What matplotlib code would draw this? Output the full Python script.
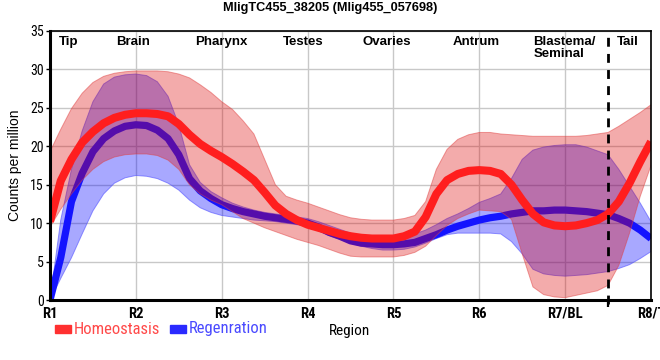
import numpy as np
import matplotlib
matplotlib.use("Agg")
import matplotlib.pyplot as plt
from matplotlib import font_manager
from matplotlib.patches import Rectangle

# ---------------- data ----------------
x_pos = np.arange(1.0, 8.0001, 0.125)

homeo_mean = [10.2, 15.5, 18.3, 20.5, 21.9, 23.0, 23.7, 24.1, 24.3, 24.3, 24.2, 23.9,
              22.9, 21.5, 20.3, 19.4, 18.6, 17.7, 16.7, 15.6, 14.0, 12.3, 11.2, 10.4,
              9.8, 9.4, 9.0, 8.6, 8.3, 8.1, 8.0, 8.0, 8.0, 8.3, 8.9, 10.8,
              13.8, 15.6, 16.4, 16.8, 16.9, 16.8, 16.4, 15.0, 13.0, 11.2, 10.1, 9.7,
              9.6, 9.7, 10.0, 10.4, 11.2, 12.8, 15.2, 18.0, 20.6]
homeo_hi = [19.3, 22.2, 24.9, 26.9, 28.3, 29.1, 29.5, 29.7, 29.8, 29.8, 29.8, 29.7,
            29.4, 28.9, 28.0, 27.0, 25.8, 24.8, 23.3, 21.6, 18.3, 15.0, 13.5, 13.0,
            12.6, 12.1, 11.6, 11.1, 10.7, 10.5, 10.4, 10.4, 10.4, 10.6, 11.0, 12.8,
            17.0, 19.6, 20.9, 21.5, 21.8, 21.8, 21.6, 21.5, 21.4, 21.3, 21.3, 21.3,
            21.3, 21.3, 21.4, 21.6, 21.8, 22.6, 23.5, 24.4, 25.4]
homeo_lo = [9.5, 11.8, 13.8, 15.6, 17.0, 18.0, 18.6, 18.9, 19.0, 19.0, 18.8, 18.2,
            17.0, 15.0, 13.8, 13.0, 12.4, 11.5, 10.6, 10.0, 9.4, 8.9, 8.4, 7.9,
            7.5, 7.1, 6.6, 6.1, 5.7, 5.6, 5.6, 5.6, 5.6, 5.8, 6.2, 7.0,
            8.4, 9.7, 10.6, 11.2, 11.7, 11.6, 11.5, 10.5, 6.0, 1.7, 0.7, 0.4,
            0.3, 0.6, 0.9, 1.2, 1.9, 4.5, 8.7, 13.5, 17.5]

regen_mean = [0.0, 5.5, 12.8, 16.5, 19.3, 21.0, 22.0, 22.6, 22.8, 22.7, 22.1, 21.0,
              18.9, 15.8, 14.2, 13.2, 12.4, 11.9, 11.5, 11.2, 10.9, 10.7, 10.5, 10.3,
              10.0, 9.5, 8.8, 8.3, 7.7, 7.4, 7.3, 7.2, 7.2, 7.3, 7.5, 8.0,
              8.5, 9.1, 9.6, 10.0, 10.4, 10.7, 10.9, 11.2, 11.4, 11.6, 11.6, 11.7,
              11.7, 11.6, 11.5, 11.3, 11.1, 10.6, 10.0, 9.1, 8.0]
regen_hi = [0.0, 10.4, 17.0, 22.0, 25.8, 28.1, 29.0, 29.3, 29.4, 29.2, 28.4, 26.5,
            22.8, 17.6, 15.3, 14.1, 13.3, 12.6, 12.1, 11.7, 11.4, 11.2, 11.0, 10.8,
            10.6, 10.2, 9.7, 9.2, 8.7, 8.3, 8.1, 8.0, 8.0, 8.2, 8.6, 9.1,
            9.8, 10.6, 11.2, 11.9, 12.7, 13.2, 13.8, 15.8, 18.3, 19.5, 19.9, 20.1,
            20.2, 20.2, 19.9, 19.4, 18.9, 17.0, 14.8, 12.6, 10.2]
regen_lo = [0.0, 2.8, 5.5, 8.6, 11.6, 13.8, 15.2, 15.9, 16.2, 16.1, 15.8, 15.2,
            14.3, 13.0, 12.0, 11.4, 11.0, 10.8, 10.6, 10.4, 10.3, 10.2, 10.0, 9.8,
            9.6, 9.0, 8.4, 7.9, 7.4, 7.0, 6.7, 6.5, 6.5, 6.6, 6.9, 7.4,
            8.0, 8.5, 8.7, 8.7, 8.7, 8.7, 8.6, 7.6, 6.0, 4.0, 3.4, 3.2,
            3.1, 3.2, 3.3, 3.5, 3.7, 4.1, 4.6, 5.4, 6.3]

tick_positions = [1, 2, 3, 4, 5, 6, 7, 8]
tick_labels = ["R1", "R2", "R3", "R4", "R5", "R6", "R7/BL", "R8/T"]
region_names = ["Tip", "Brain", "Pharynx", "Testes", "Ovaries", "Antrum", "Blastema/\nSeminal", "Tail"]
region_pos = [1.22, 1.97, 2.99, 3.95, 4.92, 5.97, 6.63, 7.73]
series_names = ["Homeostasis", "Regenration"]
title = "MligTC455_38205 (Mlig455_057698)"

# ---------------- fonts ----------------
avail = {f.name for f in font_manager.fontManager.ttflist}
def pick(cands):
    for c in cands:
        if c in avail:
            return c
    return "DejaVu Sans"
SANS = pick(["Liberation Sans", "Arial", "DejaVu Sans"])
NARROW = pick(["Liberation Sans Narrow", "Roboto Condensed", "DejaVu Sans Condensed", "Liberation Sans"])
narrow_ok = NARROW != SANS
plt.rcParams["font.family"] = [SANS, "DejaVu Sans"]

# ---------------- figure ----------------
fig = plt.figure(figsize=(6.6, 3.6), dpi=100)
ax = fig.add_axes([50 / 660, 60 / 360, 601 / 660, 269 / 360])

ax.set_xlim(1, 8)
ax.set_ylim(0, 35)
ax.set_yticks(range(0, 36, 5))
ax.set_xticks(tick_positions)
ax.grid(True, color="#c8c8c8", linewidth=1.0, zorder=0)
ax.set_axisbelow(True)

red_band = "#dc0000"
blue_band = "#0000ff"
ax.fill_between(x_pos, regen_lo, regen_hi, facecolor=blue_band, alpha=0.34,
                edgecolor="none", zorder=2)
ax.plot(x_pos, regen_hi, color="#5050ff", lw=0.7, alpha=0.6, zorder=2)
ax.plot(x_pos, regen_lo, color="#5050ff", lw=0.7, alpha=0.6, zorder=2)
ax.plot(x_pos, regen_mean, color="#1414ff", lw=5.2, solid_capstyle="butt", zorder=3)
ax.fill_between(x_pos, homeo_lo, homeo_hi, facecolor=red_band, alpha=0.33,
                edgecolor="none", zorder=4)
ax.plot(x_pos, homeo_hi, color="#e04040", lw=0.7, alpha=0.5, zorder=4)
ax.plot(x_pos, homeo_lo, color="#e04040", lw=0.7, alpha=0.5, zorder=4)
ax.plot(x_pos, homeo_mean, color="#ff1e1e", lw=5.8, solid_capstyle="butt", zorder=5)

# dashed separator
ax.axvline(7.5, ymin=-0.015, ymax=1, color="black", lw=2, ls=(0, (3.2, 2.6)),
           zorder=7, clip_on=False)

# spines
for s in ["left", "bottom"]:
    ax.spines[s].set_linewidth(2.2)
for s in ["top", "right"]:
    ax.spines[s].set_linewidth(1.2)
for s in ax.spines.values():
    s.set_zorder(8)

# ticks
ax.tick_params(axis="x", length=0, pad=5)
ax.set_xticklabels(tick_labels, fontweight="bold",
                   fontsize=10.5 if narrow_ok else 8.8,
                   family=[NARROW, "DejaVu Sans"])
ax.set_xticks([7.5, 8], minor=True)
ax.tick_params(axis="x", which="minor", length=5, width=1.6, color="black")
ax.tick_params(axis="y", length=3, width=1, pad=1.5, labelsize=8.5)
for lab in ax.get_yticklabels():
    lab.set_family([NARROW if narrow_ok else SANS, "DejaVu Sans"])
    lab.set_fontsize(10 if narrow_ok else 8.5)

ax.set_ylabel("Counts per million", fontsize=10, labelpad=6)

# region names
for name, p in zip(region_names, region_pos):
    if "\n" in name:
        ax.text(p, 34.4, name, ha="left", va="top", fontsize=9.5,
                fontweight="bold", linespacing=1.0, zorder=9)
    else:
        ax.text(p, 34.4, name, ha="center", va="top", fontsize=9.5,
                fontweight="bold", zorder=9)

# title
fig.text(330 / 660, 1 - 8 / 360, title, ha="center", va="center",
         fontsize=9.2, fontweight="bold")

# legend (manual) and x label
leg_y = 1 - 329 / 360
lfs = 12 if narrow_ok else 9.6
fam = [NARROW if narrow_ok else SANS, "DejaVu Sans"]
fig.patches.append(Rectangle((55 / 660, leg_y - 4 / 360), 16 / 660, 8 / 360,
                             transform=fig.transFigure, color="#ff3030"))
fig.text(74 / 660, leg_y, series_names[0], color="#ff4a4a", fontsize=lfs,
         family=fam, ha="left", va="center")
fig.patches.append(Rectangle((170 / 660, leg_y - 4 / 360), 16 / 660, 8 / 360,
                             transform=fig.transFigure, color="#2a2aff"))
fig.text(189 / 660, leg_y, series_names[1], color="#4a4aff", fontsize=lfs,
         family=fam, ha="left", va="center")
fig.text(350 / 660, 1 - 331 / 360, "Region", color="black",
         fontsize=11 if narrow_ok else 9, family=fam, ha="center", va="center")

fig.savefig("out.png", dpi=100)
